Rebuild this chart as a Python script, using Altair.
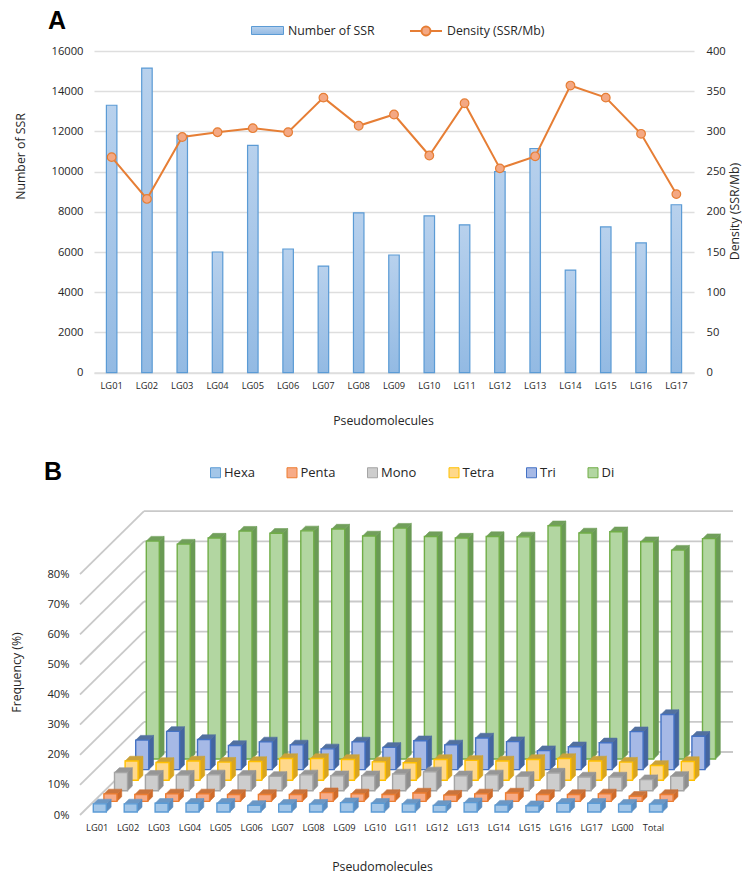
import altair as alt
import pandas as pd

FONT = "Open Sans"
TEXT = "#262626"

# Panel A
lg_a = ["LG01","LG02","LG03","LG04","LG05","LG06","LG07","LG08","LG09","LG10","LG11","LG12","LG13","LG14","LG15","LG16","LG17"]
n_ssr = [13300,15150,11800,6000,11300,6150,5300,7950,5850,7800,7350,10000,11150,5100,7250,6450,8350]
density = [268,216,293,299,304,299,342,307,321,270,335,254,269,357,342,297,222]

# Panel B
lg_b = lg_a + ["LG00","Total"]
hexa  = [2.7,2.7,2.9,2.9,2.9,2.2,2.6,2.6,3.1,2.9,2.7,2.2,3.1,2.3,2.1,2.9,2.9,2.6,2.6]
penta = [2.5,2.3,2.5,2.5,2.3,2.3,2.3,2.9,2.5,2.3,2.8,2.1,2.5,2.8,2.3,2.3,2.5,1.7,2.3]
mono  = [6.1,5.2,5.2,5.3,5.2,4.8,5.3,5.0,5.0,5.6,6.3,5.0,5.3,4.8,5.9,4.6,4.6,3.7,4.8]
tetra = [6.4,5.9,6.4,6.0,6.2,7.2,7.2,6.9,6.1,5.8,6.9,6.6,6.4,6.9,7.2,6.4,6.0,4.9,6.2]
tri   = [9.8,12.7,10.0,8.0,9.2,8.2,6.9,9.2,7.4,9.6,8.2,10.5,9.3,6.3,7.6,8.9,12.6,18.3,11.1]
di    = [72.4,71.4,73.4,75.7,75.0,75.8,76.4,74.1,76.7,73.9,73.4,73.9,73.8,77.5,75.1,75.5,72.2,69.4,73.2]
series_names = ["Hexa","Penta","Mono","Tetra","Tri","Di"]
series_vals = [hexa,penta,mono,tetra,tri,di]
front = ["#a3c6e8","#f7ab87","#cdcdcd","#ffd88a","#a6b9e6","#b2d6a1"]
edge  = ["#5b9bd5","#ed7d31","#a5a5a5","#ffc000","#4472c4","#70ad47"]
side  = ["#5a8cc0","#cf6b2b","#8f8f8f","#d9a520","#44659f","#6a9a55"]
cap   = ["#6b97c4","#c9743c","#969696","#c9a23c","#52709f","#719f5b"]
ticks_b = [0,10,20,30,40,50,60,70,80]

# ---------- Panel A ----------
df_a = pd.DataFrame({"lg":lg_a,"n":n_ssr,"d":density,"s1":"Number of SSR","s2":"Density (SSR/Mb)"})
W_A, H_A = 600, 321.6
x_a = alt.X("lg:N", sort=lg_a, scale=alt.Scale(paddingInner=0, paddingOuter=0),
            axis=alt.Axis(title="Pseudomolecules", labelAngle=0, labelFontSize=9.3, labelPadding=9,
                          ticks=False, domainColor="#dedede", domainWidth=1.5, titleX=289,
                          titleFontSize=12.3, titleFontWeight="normal", titleY=42, titleColor=TEXT, labelColor=TEXT))

bar_grad = alt.LinearGradient(gradient="linear",
                              stops=[alt.GradientStop(color="#b8d1ed", offset=0),
                                     alt.GradientStop(color="#93bae3", offset=1)],
                              x1=0, x2=0, y1=0, y2=1)
bars = alt.Chart(df_a).mark_bar(size=10.5, fill=bar_grad, strokeWidth=1.2).encode(
    x=x_a,
    y=alt.Y("n:Q", scale=alt.Scale(domain=[0,16000], nice=False),
            axis=alt.Axis(title="Number of SSR", values=list(range(0,16001,2000)), format="d", grid=True, gridColor="#dedede", gridWidth=1.5,
                          ticks=False, domain=False, labelFontSize=11.2, labelPadding=11,
                          titleFontSize=12.3, titleFontWeight="normal", titleX=-67, titleY=105, titleColor=TEXT, labelColor=TEXT)),
    stroke=alt.Stroke("s1:N", scale=alt.Scale(domain=["Number of SSR"], range=["#5b9bd5"]),
                      legend=alt.Legend(title=None, orient="none", legendX=157, legendY=-37,
                                        symbolType="M-1,-0.25H1V0.25H-1Z", symbolSize=1024,
                                        symbolFillColor="#a9c8ea", symbolStrokeColor="#5b9bd5", symbolStrokeWidth=1,
                                        labelFontSize=12.3, labelOffset=4, labelColor=TEXT, labelFont=FONT)),
)
y_d = alt.Y("d:Q", scale=alt.Scale(domain=[0,400], nice=False),
            axis=alt.Axis(title="Density (SSR/Mb)", orient="right", values=list(range(0,401,50)), grid=False,
                          ticks=False, domain=False, labelFontSize=11.2, labelPadding=12, titleAngle=270,
                          titleFontSize=12.3, titleFontWeight="normal", titleX=47, titleY=160, titleColor=TEXT, labelColor=TEXT))
line = alt.Chart(df_a).mark_line(strokeWidth=2).encode(
    x=x_a, y=y_d,
    color=alt.Color("s2:N", scale=alt.Scale(domain=["Density (SSR/Mb)"], range=["#e67e35"]),
                    legend=alt.Legend(title=None, orient="none", legendX=315, legendY=-37,
                                      symbolType="M-1,0H-0.28A0.28,0.28 0 1 1 0.28,0A0.28,0.28 0 1 1 -0.28,0M0.28,0H1",
                                      symbolSize=1024, symbolFillColor="#f4a883", symbolStrokeColor="#e67e35", symbolStrokeWidth=2,
                                      labelFontSize=12.3, labelOffset=4, labelColor=TEXT, labelFont=FONT)),
)
pts = alt.Chart(df_a).mark_point(filled=True, fill="#f4a883", stroke="#e67e35", strokeWidth=1.2, size=75, opacity=1).encode(
    x=x_a, y=y_d
)
letter_a = alt.Chart(pd.DataFrame({"t":["A"]})).mark_text(font="Liberation Sans", fontWeight="bold", fontSize=25, align="left", baseline="alphabetic", color="#000").encode(
    x=alt.value(-46), y=alt.value(-21.7), text="t:N")
panel_a = alt.layer(bars, alt.layer(line, pts), letter_a).resolve_scale(y="independent", stroke="independent", color="independent").properties(width=W_A, height=H_A)

# ---------- Panel B ----------
rows = []
for s, (name, vals) in enumerate(zip(series_names, series_vals)):
    for i, (lg, v) in enumerate(zip(lg_b, vals)):
        rows.append({"lg":lg,"i":i,"s":s,"series":name,"v":v})
df_b = pd.DataFrame(rows)

CAT = 30.9          # px per category
PCT = 3.01          # px per percent
X_LEFT = 79         # front-left corner on page
XDOM = [(93-X_LEFT)/CAT, (732-X_LEFT)/CAT]
W_B = 639
H_B = 307
YDOM = [0, H_B/PCT]
sx = 10.6/CAT; sy = 10.6/PCT     # step between rows
bw = 13/CAT                      # bar front width
dx = 4.8/CAT; dy = 4.7/PCT       # bar depth
x0 = 13.3/CAT; y0 = 3/PCT        # first bar base
wall_x = (143-X_LEFT)/CAT; wall_y = 63/PCT

xs = alt.Scale(domain=XDOM, nice=False, zero=False)
ys = alt.Scale(domain=YDOM, nice=False, zero=False)
lab_off = x0 + 3.4/CAT
lab_arr = "[" + ",".join(f"'{l}'" for l in lg_b) + "]"
ax_x = alt.Axis(title="Pseudomolecules", values=[lab_off+i for i in range(len(lg_b))],
                labelExpr=f"{lab_arr}[round(datum.value-{lab_off})]", labelOverlap=False, labelFlush=False,
                labelAngle=0, labelFontSize=9.3, labelPadding=8, ticks=False, domain=False, grid=False,
                titleFontSize=12.3, titleFontWeight="normal", titleX=288, titleY=45, titleColor=TEXT, labelColor=TEXT)
ax_y = alt.Axis(title="Frequency (%)", values=ticks_b, labelExpr="datum.value+'%'", grid=False, ticks=False, domain=False,
                labelFontSize=11.2, labelPadding=25, titleFontSize=12.3, titleFontWeight="normal",
                titleX=-71, titleY=164, titleColor=TEXT, labelColor=TEXT)

df_t = pd.DataFrame({"p":ticks_b})
floor_rule = alt.Chart(df_t).transform_calculate(
    xa="0", xb=f"{wall_x}", ya="datum.p", yb=f"datum.p+{wall_y}", xr=f"{XDOM[1]}"
)
diag = floor_rule.mark_rule(color="#c9c9c9", strokeWidth=1.8).encode(
    x=alt.X("xa:Q", scale=xs, axis=ax_x), x2="xb:Q",
    y=alt.Y("ya:Q", scale=ys, axis=ax_y), y2="yb:Q",
)
back = floor_rule.mark_rule(color="#c9c9c9", strokeWidth=1.8).encode(
    x=alt.X("xb:Q", scale=xs, axis=ax_x), x2="xr:Q",
    y=alt.Y("yb:Q", scale=ys, axis=ax_y),
)

layers = [diag, back]
calc = dict(
    xl=f"{x0}+datum.i+datum.s*{sx}",
    xr=f"{x0}+datum.i+datum.s*{sx}+{bw}",
    yb=f"{y0}+datum.s*{sy}",
    yt=f"{y0}+datum.s*{sy}+datum.v",
)
for s in range(5, -1, -1):
    base = alt.Chart(df_b).transform_filter(f"datum.s=={s}").transform_calculate(**calc)
    folded = base.transform_calculate(k0="0", k1="1").transform_fold(["k0","k1"], as_=["kn","k"]).transform_calculate(
        sxv=f"datum.xr+datum.k*{dx}", sy0=f"datum.yb+datum.k*{dy}", sy1=f"datum.yt+datum.k*{dy}",
        tx0=f"datum.xl+datum.k*{dx}", tx1=f"datum.xr+datum.k*{dx}", ty=f"datum.yt+datum.k*{dy}")
    side_l = folded.mark_area(color=side[s], stroke=side[s], strokeWidth=0.6, orient="vertical").encode(
        x=alt.X("sxv:Q", scale=xs, axis=ax_x),
        y=alt.Y("sy1:Q", scale=ys, axis=ax_y, stack=None), y2="sy0:Q", detail="lg:N")
    cap_l = folded.mark_area(color=cap[s], stroke=cap[s], strokeWidth=0.6, orient="horizontal").encode(
        y=alt.Y("ty:Q", scale=ys, axis=ax_y),
        x=alt.X("tx0:Q", scale=xs, axis=ax_x, stack=None), x2="tx1:Q", detail="lg:N")
    legend = alt.Legend(title=None, orient="none", legendX=115, legendY=415, direction="horizontal", columns=6,
                        symbolType="square", symbolSize=100, symbolStrokeWidth=1, labelFontSize=13, labelOffset=2,
                        columnPadding=29.5, labelColor=TEXT, labelFont=FONT)
    front_l = base.mark_rect(strokeWidth=1.4).encode(
        x=alt.X("xl:Q", scale=xs, axis=ax_x), x2="xr:Q",
        y=alt.Y("yb:Q", scale=ys, axis=ax_y), y2="yt:Q",
        fill=alt.Fill("series:N", scale=alt.Scale(domain=series_names, range=front), legend=legend),
        stroke=alt.Stroke("series:N", scale=alt.Scale(domain=series_names, range=edge), legend=legend),
    )
    layers += [side_l, cap_l, front_l]

letter_b = alt.Chart(pd.DataFrame({"t":["B"]})).mark_text(font="Liberation Sans", fontWeight="bold", fontSize=25, align="left", baseline="alphabetic", color="#000").encode(
    x=alt.value(-50), y=alt.value(-28), text="t:N")
layers.append(letter_b)
panel_b = alt.layer(*layers).properties(width=W_B, height=H_B)

chart = alt.vconcat(panel_a, panel_b, spacing=135, bounds="flush").properties(
    padding={"left":2,"top":1,"right":1,"bottom":0}
).configure_view(stroke=None).configure_axis(labelFont=FONT, titleFont=FONT)
chart.save("out.html", embed_options={"renderer": "svg", "actions": False})
